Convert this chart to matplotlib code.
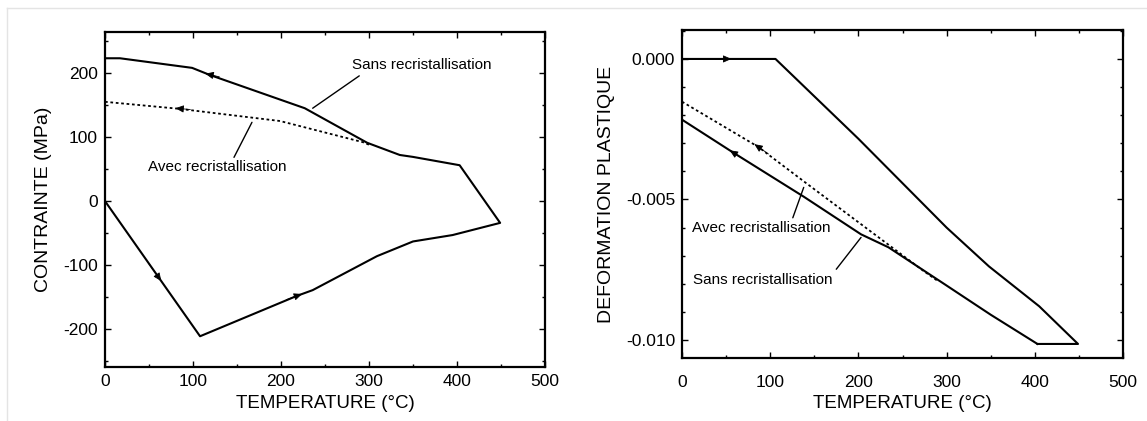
import numpy as np
import matplotlib.pyplot as plt
from matplotlib.ticker import MultipleLocator, FormatStrFormatter
from matplotlib.lines import Line2D

plt.rcParams['font.family'] = ['Liberation Sans', 'DejaVu Sans']
plt.rcParams['axes.unicode_minus'] = False

# --- contrainte (MPa) vs temperature ---
t_sans_l = [0, 108, 218, 236, 309, 350, 395, 449, 403, 350, 335, 298, 227, 119, 99, 17, 0]
s_sans_l = [0, -211, -148, -139, -86, -63, -53, -34, 56, 69, 72, 91, 145, 197, 208, 223, 223]
t_avec_l = [0, 85, 199, 293, 300]
s_avec_l = [155, 144, 125, 92, 88]

# --- deformation plastique vs temperature ---
t_chauf_r = [0, 106, 200, 300, 348, 405, 449, 403]
e_chauf_r = [0, 0, -0.00284, -0.0060, -0.00738, -0.0088, -0.01014, -0.01014]
t_sans_r = [403, 350, 297, 234, 203, 138, 58, 0]
e_sans_r = [-0.01014, -0.0091, -0.0080, -0.0067, -0.00624, -0.0049, -0.00333, -0.00216]
t_avec_r = [0, 86, 140, 272, 290]
e_avec_r = [-0.00152, -0.00312, -0.0044, -0.0075, -0.0079]

# arrow heads along the curves: (start, end) in data units
arrows_l = [((50, -98), (64, -125)), ((130, 194), (114, 199)),
            ((206, -154), (224, -145)), ((97, 143), (80, 145))]
arrows_r = [((38, 0), (56, 0)), ((70, -0.00357), (54, -0.00325)),
            ((98, -0.00338), (82, -0.00303))]

W, H = 1147, 421
fig = plt.figure(figsize=(W / 100, H / 100), dpi=100)
fig.add_artist(Line2D([7 / W, 7 / W], [0, 1 - 8 / H], color='#e4e4e4', lw=1))
fig.add_artist(Line2D([7 / W, 1], [1 - 8 / H, 1 - 8 / H], color='#e4e4e4', lw=1))

ax1 = fig.add_axes([105 / W, 1 - 367 / H, 440 / W, 335 / H])
ax2 = fig.add_axes([682 / W, 1 - 358 / H, 441 / W, 328 / H])

lw = 1.5
ax1.plot(t_sans_l, s_sans_l, color='black', lw=lw)
ax1.plot(t_avec_l, s_avec_l, color='black', lw=1.3, ls=(0, (1.5, 1.5)))
ax2.plot(t_chauf_r, e_chauf_r, color='black', lw=lw)
ax2.plot(t_sans_r, e_sans_r, color='black', lw=lw)
ax2.plot(t_avec_r, e_avec_r, color='black', lw=1.3, ls=(0, (1.5, 1.5)))

for ax, arrs in [(ax1, arrows_l), (ax2, arrows_r)]:
    for a, b in arrs:
        ax.annotate('', xy=b, xytext=a,
                    arrowprops=dict(arrowstyle='-|>,head_length=0.5,head_width=0.22',
                                    color='black', lw=0.6,
                                    mutation_scale=10, shrinkA=0, shrinkB=0))

ax1.set_xlim(0, 500)
ax1.set_ylim(-259, 264)
ax2.set_xlim(0, 500)
ax2.set_ylim(-0.01064, 0.00103)

for ax in (ax1, ax2):
    ax.xaxis.set_major_locator(MultipleLocator(100))
    ax.xaxis.set_minor_locator(MultipleLocator(50))
    ax.tick_params(which='both', direction='in', top=True, right=True,
                   labelsize=12.5, width=1, pad=5)
    ax.tick_params(which='major', length=4)
    ax.tick_params(which='minor', length=2.5)
    for sp in ax.spines.values():
        sp.set_linewidth(1.6)

ax2.tick_params(axis='x', which='both', pad=12)
ax1.set_xlabel('TEMPERATURE (°C)', fontsize=13.5, labelpad=4)
ax2.set_xlabel('TEMPERATURE (°C)', fontsize=13.5, labelpad=4)

ax1.yaxis.set_major_locator(MultipleLocator(100))
ax1.yaxis.set_minor_locator(MultipleLocator(50))
ax2.yaxis.set_major_locator(MultipleLocator(0.005))
ax2.yaxis.set_minor_locator(MultipleLocator(0.001))
ax2.yaxis.set_major_formatter(FormatStrFormatter('%.3f'))

ax1.set_ylabel('CONTRAINTE (MPa)', fontsize=14, labelpad=8)
ax2.set_ylabel('DEFORMATION PLASTIQUE', fontsize=14, labelpad=8)

fs = 11
ax1.annotate('Sans recristallisation', xy=(236, 145), xytext=(281, 213),
             fontsize=fs, va='center',
             arrowprops=dict(arrowstyle='-', color='black', lw=1,
                             shrinkA=0, shrinkB=0, relpos=(0.05, -0.3)))
ax1.annotate('Avec recristallisation', xy=(167, 123), xytext=(49, 53),
             fontsize=fs, va='center',
             arrowprops=dict(arrowstyle='-', color='black', lw=1,
                             shrinkA=0, shrinkB=0, relpos=(0.62, 1.2)))
ax2.annotate('Avec recristallisation', xy=(138, -0.00457), xytext=(11, -0.00600),
             fontsize=fs, va='center',
             arrowprops=dict(arrowstyle='-', color='black', lw=1,
                             shrinkA=0, shrinkB=0, relpos=(0.73, 1.2)))
ax2.annotate('Sans recristallisation', xy=(203, -0.00635), xytext=(12, -0.00788),
             fontsize=fs, va='center',
             arrowprops=dict(arrowstyle='-', color='black', lw=1,
                             shrinkA=0, shrinkB=0, relpos=(1.03, 1.3)))

fig.savefig('out.png', dpi=100)
